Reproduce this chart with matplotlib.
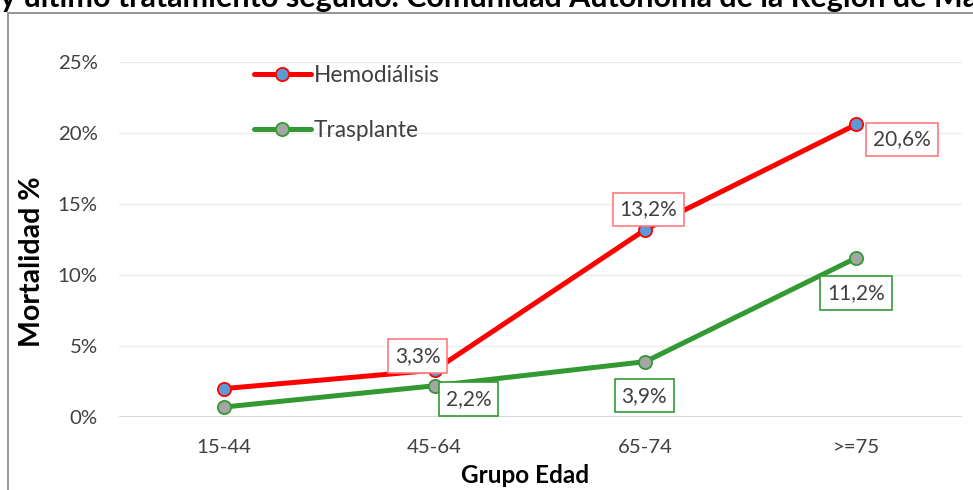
import matplotlib
matplotlib.use("Agg")
import matplotlib.pyplot as plt
from matplotlib.patches import Rectangle
from matplotlib.ticker import FuncFormatter

plt.rcParams['font.family'] = ['Lato', 'DejaVu Sans']

categories = ['15-44', '45-64', '65-74', '>=75']
hemodialisis = [2.0, 3.3, 13.2, 20.6]
trasplante = [0.7, 2.2, 3.9, 11.2]
hemo_labels = ['', '3,3%', '13,2%', '20,6%']
tras_labels = ['', '2,2%', '3,9%', '11,2%']
yticks = [0, 5, 10, 15, 20, 25]
title = 'y último tratamiento seguido. Comunidad Autónoma de la Región de Madrid'

W, H = 973, 490
fig = plt.figure(figsize=(W / 100, H / 100), dpi=100)
ax = fig.add_axes([118.5 / W, 1 - 417 / H, (961.5 - 118.5) / W, (417 - 62) / H])

x = list(range(len(categories)))
red = '#FF0000'
green = '#339933'
txtc = '#404040'

ax.plot(x, hemodialisis, color=red, lw=3.6, marker='o', ms=9.5, mfc='#5B9BD5',
        mec=red, mew=1.3, label='Hemodiálisis', zorder=4, solid_capstyle='round')
ax.plot(x, trasplante, color=green, lw=3.6, marker='o', ms=9.5, mfc='#A5A5A5',
        mec=green, mew=1.3, label='Trasplante', zorder=3, solid_capstyle='round')

ax.set_xlim(-0.5, 3.5)
ax.set_ylim(0, 25)
ax.set_xticks(x)
ax.set_xticklabels(categories)
ax.set_yticks(yticks)
ax.yaxis.set_major_formatter(FuncFormatter(lambda v, p: f'{int(v)}%'))
ax.tick_params(length=0, labelsize=14.7, labelcolor=txtc)
ax.tick_params(axis='x', pad=16)
ax.tick_params(axis='y', pad=15)
for s in ax.spines.values():
    s.set_visible(False)
ax.grid(axis='y', color='#EDEDED', lw=1)
ax.axhline(0, color='#D9D9D9', lw=1.5, zorder=1)
ax.set_axisbelow(True)

ax.set_xlabel('Grupo Edad', fontsize=17.5, fontweight='bold', color='black')
ax.set_ylabel('Mortalidad %', fontsize=20.5, fontweight='bold', color='black')
ax.xaxis.set_label_coords((525 - 118.5) / 843, (417 - 464) / 355)
ax.yaxis.set_label_coords((45 - 118.5) / 843, (417 - 262) / 355)

hemo_off = [(0, 0), (-17, 14), (3, 20), (46, -15)]
tras_off = [(0, 0), (34, -13), (-1, -34), (0, -35)]
for i in range(len(categories)):
    if hemo_labels[i]:
        ax.annotate(hemo_labels[i], (x[i], hemodialisis[i]), xytext=hemo_off[i],
                    textcoords='offset pixels', ha='center', va='center',
                    fontsize=15, color=txtc, zorder=6,
                    bbox=dict(boxstyle='square,pad=0.33', fc='white', ec='#FF7C80', lw=1.2))
    if tras_labels[i]:
        ax.annotate(tras_labels[i], (x[i], trasplante[i]), xytext=tras_off[i],
                    textcoords='offset pixels', ha='center', va='center',
                    fontsize=15, color=txtc, zorder=6,
                    bbox=dict(boxstyle='square,pad=0.33', fc='white', ec=green, lw=1.2))

leg = ax.legend(loc='upper left', bbox_to_anchor=(254 / W, 1 - 65 / H),
                bbox_transform=fig.transFigure, frameon=False, fontsize=16.3,
                handlelength=2.5, handletextpad=0.15, labelspacing=1.5,
                borderpad=0, borderaxespad=0)
for t in leg.get_texts():
    t.set_color(txtc)

# outer chart frame
fig.patches.append(Rectangle((8 / W, -0.1), 1.2, 1 - 13 / H + 0.1, transform=fig.transFigure,
                             fill=False, ec='#8C8C8C', lw=1.3, zorder=0))

fig.text(0.0, 1 - 7 / H, title, fontsize=22, fontweight='bold', ha='left',
         va='baseline', color='black')

fig.savefig('out.png', dpi=100)
